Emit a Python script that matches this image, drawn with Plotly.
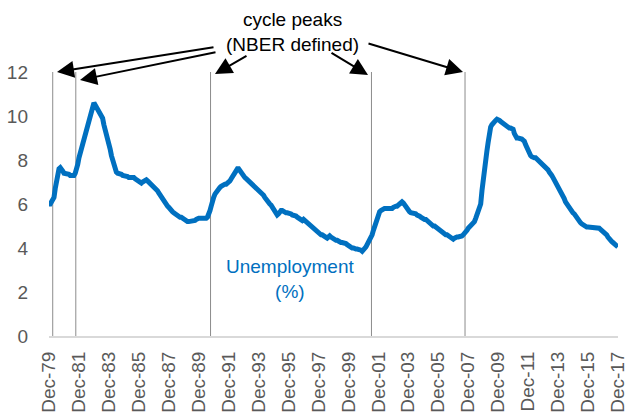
import pandas as pd
import plotly.graph_objects as go

# US unemployment rate (%), monthly, Dec-1979 .. Dec-2017
u_dec1979 = [6.0]
u_1980s = [
    6.0, 6.1, 6.2, 6.3, 6.7, 7.1, 7.4, 7.6, 7.65, 7.6, 7.5, 7.4,
    7.4, 7.4, 7.35, 7.35, 7.3, 7.3, 7.3, 7.3, 7.4, 7.55, 7.8, 8.1,
    8.3, 8.5, 8.8, 9.0, 9.2, 9.35, 9.5, 9.7, 9.9, 10.1, 10.4, 10.6,
    10.5, 10.4, 10.35, 10.3, 10.2, 10.1, 9.9, 9.6, 9.4, 9.2, 9.0, 8.8,
    8.5, 8.2, 8.0, 7.8, 7.6, 7.45, 7.4, 7.4, 7.4, 7.35, 7.3, 7.3,
    7.3, 7.3, 7.25, 7.2, 7.2, 7.2, 7.25, 7.2, 7.15, 7.1, 7.05, 7.0,
    6.95, 6.95, 7.0, 7.05, 7.1, 7.1, 7.05, 7.0, 6.95, 6.9, 6.85, 6.8,
    6.7, 6.65, 6.6, 6.5, 6.4, 6.3, 6.2, 6.1, 6.0, 5.95, 5.9, 5.85,
    5.75, 5.7, 5.65, 5.6, 5.55, 5.5, 5.45, 5.45, 5.4, 5.4, 5.35, 5.3,
    5.3, 5.25, 5.2, 5.2, 5.2, 5.2, 5.2, 5.2, 5.25, 5.3, 5.35, 5.35,
]
u_1990s = [
    5.35, 5.35, 5.3, 5.3, 5.3, 5.35, 5.4, 5.5, 5.7, 5.9, 6.2, 6.3,
    6.45, 6.55, 6.65, 6.7, 6.75, 6.8, 6.85, 6.85, 6.9, 6.9, 6.95, 6.95,
    7.05, 7.15, 7.25, 7.35, 7.45, 7.55, 7.6, 7.6, 7.5, 7.4, 7.35, 7.3,
    7.2, 7.15, 7.1, 7.05, 7.0, 7.0, 6.95, 6.9, 6.8, 6.75, 6.7, 6.65,
    6.6, 6.55, 6.5, 6.4, 6.3, 6.2, 6.15, 6.1, 6.0, 5.95, 5.85, 5.7,
    5.6, 5.5, 5.5, 5.55, 5.65, 5.7, 5.7, 5.65, 5.6, 5.6, 5.6, 5.6,
    5.55, 5.55, 5.5, 5.5, 5.45, 5.45, 5.4, 5.35, 5.3, 5.25, 5.25, 5.3,
    5.25, 5.2, 5.15, 5.1, 5.0, 4.95, 4.95, 4.9, 4.85, 4.8, 4.7, 4.65,
    4.6, 4.6, 4.6, 4.55, 4.5, 4.45, 4.45, 4.5, 4.55, 4.5, 4.45, 4.4,
    4.4, 4.35, 4.35, 4.3, 4.3, 4.25, 4.25, 4.25, 4.2, 4.2, 4.15, 4.1,
]
u_2000s = [
    4.05, 4.0, 4.0, 4.0, 3.95, 3.95, 3.95, 3.95, 3.9, 3.9, 3.85, 3.9,
    3.95, 4.05, 4.15, 4.25, 4.35, 4.45, 4.6, 4.8, 5.0, 5.2, 5.4, 5.6,
    5.65, 5.7, 5.75, 5.8, 5.8, 5.8, 5.8, 5.8, 5.75, 5.75, 5.8, 5.85,
    5.9, 5.9, 5.9, 5.95, 6.0, 6.1, 6.1, 6.05, 5.95, 5.85, 5.8, 5.7,
    5.65, 5.6, 5.6, 5.6, 5.55, 5.55, 5.5, 5.5, 5.45, 5.4, 5.35, 5.35,
    5.3, 5.3, 5.25, 5.2, 5.15, 5.1, 5.05, 5.0, 5.0, 4.95, 4.95, 4.9,
    4.85, 4.8, 4.7, 4.7, 4.65, 4.6, 4.6, 4.55, 4.5, 4.45, 4.4, 4.4,
    4.45, 4.5, 4.5, 4.5, 4.5, 4.5, 4.55, 4.6, 4.65, 4.7, 4.8, 4.9,
    4.95, 5.0, 5.05, 5.1, 5.2, 5.35, 5.5, 5.65, 5.8, 6.0, 6.6, 7.2,
    7.7, 8.1, 8.4, 8.8, 9.3, 9.5, 9.6, 9.7, 9.75, 9.8, 9.85, 9.85,
]
u_2010s = [
    9.8, 9.75, 9.7, 9.65, 9.6, 9.55, 9.5, 9.45, 9.45, 9.45, 9.45, 9.4,
    9.2, 9.0, 9.0, 9.0, 9.0, 9.0, 8.95, 8.9, 8.85, 8.7, 8.55, 8.4,
    8.3, 8.2, 8.15, 8.1, 8.1, 8.1, 8.05, 8.0, 7.95, 7.9, 7.85, 7.8,
    7.75, 7.7, 7.6, 7.55, 7.45, 7.4, 7.3, 7.2, 7.1, 7.0, 6.9, 6.75,
    6.65, 6.55, 6.45, 6.35, 6.25, 6.1, 6.0, 5.95, 5.85, 5.75, 5.65, 5.6,
    5.55, 5.45, 5.4, 5.3, 5.25, 5.15, 5.1, 5.05, 5.0, 4.95, 4.95, 4.95,
    4.95, 4.9, 4.9, 4.9, 4.9, 4.9, 4.9, 4.9, 4.9, 4.85, 4.8, 4.75,
    4.7, 4.7, 4.6, 4.5, 4.4, 4.3, 4.3, 4.25, 4.2, 4.15, 4.1, 4.05,
]

# cycle peak markers (as placed on the chart)
peak_dates = ["1980-03-01", "1981-09-15", "1990-09-15", "2001-06-15", "2007-09-15"]

tick_years = list(range(1979, 2018, 2))
tick_labels = ["Dec-%02d" % (y % 100) for y in tick_years]

values = u_dec1979 + u_1980s + u_1990s + u_2000s + u_2010s
dates = pd.date_range("1979-12-01", periods=len(values), freq="MS")

BLUE = "#0070C0"
GREY_TXT = "#595959"
FONT = "Liberation Sans, Arial, sans-serif"

W, H = 627, 418
L, R, T, B = 49, 9, 72, 82


def px(x, y):
    # pixel position -> paper coords
    return (x - L) / (W - L - R), (H - B - y) / (H - T - B)


fig = go.Figure()

for d in peak_dates:
    fig.add_shape(type="line", x0=d, x1=d, y0=0, y1=12, xref="x", yref="y",
                  line=dict(color="#8C8C8C", width=1), layer="below")

fig.add_trace(go.Scatter(x=dates, y=values, mode="lines",
                         line=dict(color=BLUE, width=5), hoverinfo="skip"))

# arrows: (tip, tail) in pixels
arrows = [((57, 72), (215, 47)), ((80, 80), (217, 52)), ((215, 74), (248, 55)),
          ((368, 75), (330, 52)), ((463, 72), (367, 43))]
for (tx, ty), (sx, sy) in arrows:
    xp, yp = px(tx, ty)
    fig.add_annotation(x=xp, y=yp, xref="paper", yref="paper", text="",
                       showarrow=True, ax=sx - tx, ay=sy - ty,
                       arrowhead=2, arrowsize=1.7, arrowwidth=2,
                       arrowcolor="black", standoff=0, startstandoff=0)

xp, yp = px(292, 32)
fig.add_annotation(x=xp, y=yp, xref="paper", yref="paper", showarrow=False,
                   xanchor="center", yanchor="middle",
                   text="cycle peaks<br>(NBER defined)",
                   font=dict(family=FONT, size=19, color="black"))
xp, yp = px(290, 279)
fig.add_annotation(x=xp, y=yp, xref="paper", yref="paper", showarrow=False,
                   xanchor="center", yanchor="middle",
                   text="Unemployment<br>(%)",
                   font=dict(family=FONT, size=19, color=BLUE))

fig.update_layout(
    width=W, height=H,
    margin=dict(l=L, r=R, t=T, b=B, autoexpand=False),
    plot_bgcolor="white", paper_bgcolor="white",
    showlegend=False,
    xaxis=dict(range=[dates[0], "2017-12-03"], tickvals=[f"{y}-12-01" for y in tick_years],
               ticktext=tick_labels, tickangle=-90, showgrid=False, zeroline=False,
               showline=True, linecolor="#D9D9D9", linewidth=2, ticks="",
               ticklabelstandoff=6, ticklabeloverflow="allow",
               tickfont=dict(family=FONT, size=19, color=GREY_TXT)),
    yaxis=dict(range=[0, 12], tickvals=[0, 2, 4, 6, 8, 10, 12], showgrid=False,
               zeroline=False, showline=False, ticks="", ticklabelstandoff=20,
               tickfont=dict(family=FONT, size=19, color=GREY_TXT)),
)

fig.write_html("out.html", config={"displayModeBar": False},
               post_script="document.body.style.margin='0px';")
